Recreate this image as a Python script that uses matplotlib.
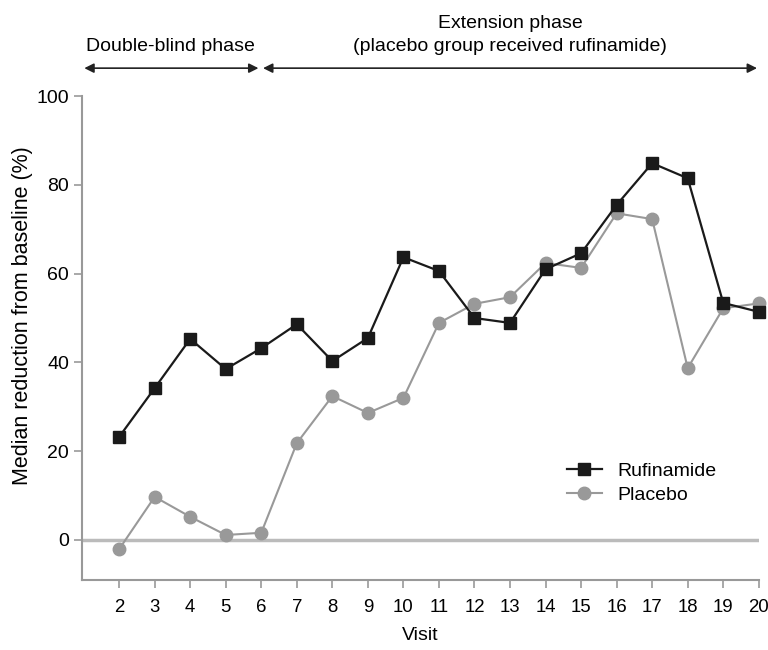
import numpy as np
import matplotlib.pyplot as plt

plt.rcParams['font.family'] = ['Liberation Sans', 'DejaVu Sans']

# data
visits = [2, 3, 4, 5, 6, 7, 8, 9, 10, 11, 12, 13, 14, 15, 16, 17, 18, 19, 20]
rufinamide = [23.2, 34.2, 45.3, 38.5, 43.2, 48.6, 40.3, 45.5, 63.7, 60.6,
              50.0, 48.9, 61.0, 64.6, 75.5, 84.9, 81.5, 53.4, 51.4]
placebo = [-2.1, 9.7, 5.2, 1.1, 1.6, 21.8, 32.4, 28.6, 32.0, 48.9,
           53.2, 54.7, 62.4, 61.3, 73.6, 72.3, 38.7, 52.2, 53.3]
yticks = [0, 20, 40, 60, 80, 100]

fs = 14
fig = plt.figure(figsize=(7.68, 6.5), dpi=100)
ax = fig.add_axes([0.107, 0.108, 0.881, 0.744])

spine_col = '#999999'
ax.axhline(0, color='#bbbbbb', lw=2.5, zorder=1)

ax.plot(visits, placebo, color='#999999', lw=1.5, marker='o', ms=9,
        mfc='#999999', mec='#999999', label='Placebo', clip_on=False, zorder=3)
ax.plot(visits, rufinamide, color='#1a1a1a', lw=1.6, marker='s', ms=8,
        mfc='#1a1a1a', mec='#1a1a1a', label='Rufinamide', clip_on=False, zorder=4)

ax.set_xlim(0.96, 20)
ax.set_ylim(-9, 100)
ax.set_xticks(visits)
ax.set_yticks(yticks)
ax.tick_params(axis='both', direction='out', length=6, color=spine_col,
               labelsize=fs, width=1.2)
ax.tick_params(axis='x', pad=8, labelsize=13.4)
for s in ['top', 'right']:
    ax.spines[s].set_visible(False)
for s in ['left', 'bottom']:
    ax.spines[s].set_color(spine_col)
    ax.spines[s].set_linewidth(1.5)

ax.set_xlabel('Visit', fontsize=fs, labelpad=8)
ax.set_ylabel('Median reduction from baseline (%)', fontsize=15.5)
ax.yaxis.set_label_coords(-0.072, 0.547)

h, l = ax.get_legend_handles_labels()
ax.legend(h[::-1], l[::-1], loc='upper left', bbox_to_anchor=(0.69, 0.28),
          frameon=False, fontsize=fs, handlelength=1.8, labelspacing=0.35)

# phase arrows above the plot
arr_y = 1.058
trans = ax.get_xaxis_transform()
ax.annotate('', xy=(1.02, arr_y), xytext=(5.92, arr_y), xycoords=trans,
            arrowprops=dict(arrowstyle='<|-|>', color='#222222', lw=1.2,
                            mutation_scale=14, shrinkA=0, shrinkB=0),
            annotation_clip=False)
ax.annotate('', xy=(6.05, arr_y), xytext=(19.95, arr_y), xycoords=trans,
            arrowprops=dict(arrowstyle='<|-|>', color='#222222', lw=1.2,
                            mutation_scale=14, shrinkA=0, shrinkB=0),
            annotation_clip=False)
ax.text(3.45, 1.085, 'Double-blind phase', transform=trans, ha='center',
        va='bottom', fontsize=fs)
ax.text(13.0, 1.085, 'Extension phase\n(placebo group received rufinamide)',
        transform=trans, ha='center', va='bottom', fontsize=fs,
        linespacing=1.5)

fig.savefig('out.png', dpi=100)
